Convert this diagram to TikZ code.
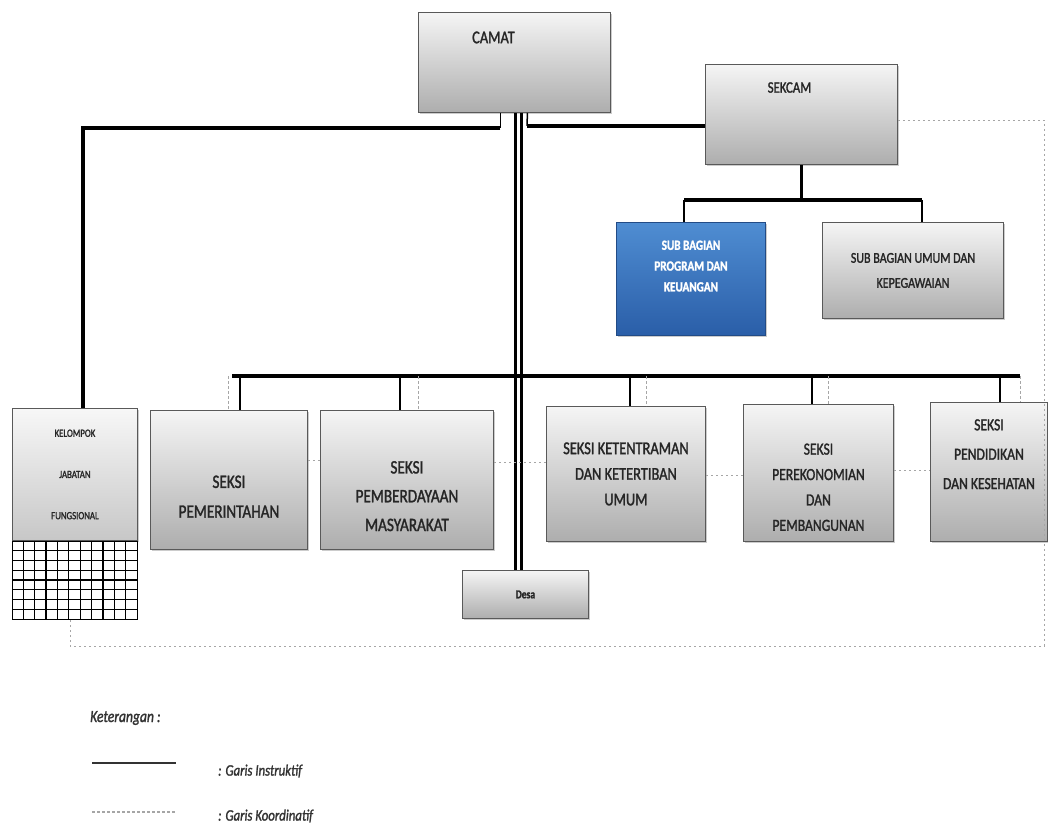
\documentclass[tikz,border=0pt]{standalone}
\usepackage{fontspec}
\setmainfont{Carlito}[FakeStretch=0.8, FakeBold=1.5]
\usetikzlibrary{shadows,positioning,calc}
\definecolor{bluetop}{HTML}{4F8DD2}
\definecolor{bluebot}{HTML}{2A5EA8}
\tikzset{unit/.style={
       rectangle,
       anchor=north west,
       draw=black!65,
       line width=0.9pt,
       top color=black!4,
       bottom color=black!32,
       drop shadow={shadow xshift=1.5pt,shadow yshift=-1.5pt,opacity=0.4},
       align=center,
       text=black!85,
       inner sep=1pt
     },
     subunit/.style={unit,
       draw=bluebot!80!black,
       top color=bluetop,
       bottom color=bluebot,
       text=white
     },
     boxsize/.style 2 args={minimum width=#1pt, minimum height=#2pt},
     fs/.style={font=\fontsize{#1pt}{\dimexpr#1pt*6/5\relax}\selectfont},
     fsb/.style={font=\bfseries\fontsize{#1pt}{\dimexpr#1pt*6/5\relax}\selectfont},
     instr/.style={draw=black, line width=4.5pt},
     stem/.style={draw=black, line width=3pt},
     branch/.style={draw=black, line width=1.5pt},
     coord/.style={draw=black!35, line width=0.9pt, dash pattern=on 2.5pt off 2.5pt}
}

\begin{document}
\begin{tikzpicture}[x=1pt, y=-1pt,
    legend/.style={font=\itshape\fontsize{17pt}{20pt}\selectfont, text=black!80, inner sep=0pt, anchor=west},
    gridline/.style={draw=black, line width=1.3pt}]
  \useasboundingbox (0,0) rectangle (1048,829);

  % pimpinan
  \node[unit, boxsize={192}{100}, fs=18] (camat) at (418,12) {CAMAT\hspace*{42pt}\\[22pt]\strut};
  \node[unit, boxsize={192}{100}, fs=16] (sekcam) at (705,64) {SEKCAM\hspace*{24pt}\\[29pt]\strut};

  % sub bagian
  \node[subunit, boxsize={149}{113}, fsb=14] (subprog) at (616,222) {SUB BAGIAN\\[4pt]PROGRAM DAN\\[4pt]KEUANGAN\\[4pt]\strut};
  \node[unit, boxsize={181}{96}, fs=15] (subumum) at (822,222) {SUB BAGIAN UMUM DAN\\[7pt]KEPEGAWAIAN};

  % seksi
  \node[unit, boxsize={125}{132}, fs=11, top color=black!3, bottom color=black!22] (kelompok) at (12,408) {KELOMPOK\\[28pt]JABATAN\\[28pt]FUNGSIONAL};
  \node[draw=black, fill=white, line width=1.3pt, anchor=north west, boxsize={125}{78}] (kelgrid) at (kelompok.south west) {};
  \node[unit, boxsize={157}{139}, fs=19] (pemerintahan) at (150,410) {\strut\\[7pt]SEKSI\\[7pt]PEMERINTAHAN};
  \node[unit, boxsize={173}{139}, fs=19] (pemberdayaan) at (320,410) {\strut\\[6pt]SEKSI\\[6pt]PEMBERDAYAAN\\[6pt]MASYARAKAT};
  \node[unit, boxsize={159}{135}, fs=18] (ketentraman) at (546,406) {SEKSI KETENTRAMAN\\[4pt]DAN KETERTIBAN\\[4pt]UMUM};
  \node[unit, boxsize={150}{137}, fs=17] (perekonomian) at (743,404) {\strut\\[5pt]SEKSI\\[5pt]PEREKONOMIAN\\[5pt]DAN\\[5pt]PEMBANGUNAN};
  \node[unit, boxsize={117}{139}, fs=17] (pendidikan) at (930,402) {SEKSI\\[9pt]PENDIDIKAN\\[9pt]DAN KESEHATAN\\[9pt]\strut};
  \node[unit, boxsize={126}{48}, fsb=12] (desa) at (462,570) {Desa};

  % kisi kelompok jabatan
  \foreach \i in {1,...,10}
    \draw[gridline] ($(kelgrid.north west)+(\i*11.36,0)$) -- ($(kelgrid.south west)+(\i*11.36,0)$);
  \foreach \j in {1,...,7}
    \draw[gridline] ($(kelgrid.north west)+(0,\j*9.75)$) -- ($(kelgrid.north east)+(0,\j*9.75)$);

  % garis instruktif
  \coordinate (kiri) at (83,128);
  \coordinate (kanan) at (527,126);
  \draw[branch] ([xshift=-14pt]camat.south) -- ([xshift=-14pt]camat.south |- kiri);
  \draw[instr] ([xshift=-14pt]camat.south |- kiri) -- (kiri) -- (kiri |- kelompok.north);
  \draw[branch] ([xshift=13pt]camat.south) -- (kanan);
  \draw[instr] (kanan) -- (kanan -| sekcam.west);
  \foreach \dx in {1,7}
    \draw[stem, line width=2.5pt] ([xshift=\dx pt]camat.south) -- ([xshift=\dx pt]camat.south |- desa.north);

  \coordinate (sbkiri) at (684,200);
  \coordinate (sbkanan) at (922,200);
  \draw[stem] (sekcam.south) -- (sekcam.south |- sbkiri);
  \draw[instr] (sbkiri) -- (sbkanan);
  \draw[branch] (sbkiri) -- (sbkiri |- subprog.north);
  \draw[branch] (sbkanan) -- (sbkanan |- subumum.north);

  \coordinate (barkiri) at (232,376);
  \coordinate (barkanan) at (1020,376);
  \draw[instr] (barkiri) -- (barkanan);
  \foreach \n/\x in {pemerintahan/240, pemberdayaan/400, ketentraman/630, perekonomian/812, pendidikan/1000}
    \draw[branch] (barkiri -| \x,0) -- (\n.north -| \x,0);

  % garis koordinatif
  \foreach \n/\x in {pemerintahan/228, pemberdayaan/418, ketentraman/646, perekonomian/828, pendidikan/1020}
    \draw[coord] (barkiri -| \x,0) -- (\n.north -| \x,0);
  \draw[coord] (pemerintahan.east |- 0,460) -- (pemberdayaan.west |- 0,460);
  \draw[coord] (pemberdayaan.east |- 0,462) -- (ketentraman.west |- 0,462);
  \draw[coord] (ketentraman.east |- 0,475) -- (perekonomian.west |- 0,475);
  \draw[coord] (perekonomian.east |- 0,470) -- (pendidikan.west |- 0,470);
  \coordinate (ujung) at (1044,646);
  \draw[coord] (sekcam.east |- 0,120) -| (ujung) -| (kelgrid.south -| 70,0);

  % keterangan
  \node[legend] (ket) at (90,718) {Keterangan :};
  \coordinate (lsatu) at (92,763);
  \coordinate (ldua) at (92,812);
  \draw[draw=black!80, line width=2.5pt] (lsatu) -- ++(84,0);
  \draw[coord, line width=1.2pt] (ldua) -- ++(84,0);
  \node[legend, font=\itshape\fontsize{16pt}{19pt}\selectfont] (instruktif) at (218,771) {: Garis Instruktif};
  \node[legend, font=\itshape\fontsize{16pt}{19pt}\selectfont] (koordinatif) at (218,816) {: Garis Koordinatif};
\end{tikzpicture}
\end{document}
